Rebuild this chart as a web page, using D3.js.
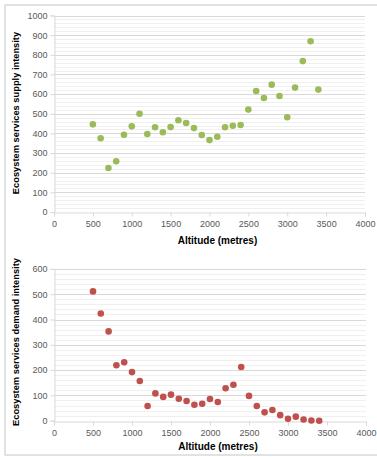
<!DOCTYPE html>
<html><head><meta charset="utf-8">
<script src="https://cdn.jsdelivr.net/npm/d3@7"></script>
<style>
html,body{margin:0;padding:0;background:#fff;}
svg{display:block;font-family:"Liberation Sans",Arial,sans-serif;}
</style></head>
<body>
<svg id="c" width="377" height="457"></svg>
<script>
const altitudes = [500,600,700,800,900,1000,1100,1200,1300,1400,1500,1600,1700,1800,1900,2000,2100,2200,2300,2400,2500,2600,2700,2800,2900,3000,3100,3200,3300,3400];
const supply = [446,375,224,258,393,436,500,397,431,406,432,467,453,427,392,366,383,431,439,443,521,616,580,648,590,482,633,768,869,623];
const demand = [511,424,353,219,231,192,157,58,108,94,103,87,78,63,67,86,74,128,142,212,98,58,33,42,22,8,16,5,1,0];
const xTicks = [0,500,1000,1500,2000,2500,3000,3500,4000];
const supplyTicks = [0,100,200,300,400,500,600,700,800,900,1000];
const demandTicks = [0,100,200,300,400,500,600];
const xTitle = "Altitude (metres)";
const supplyTitle = "Ecosystem services supply intensity";
const demandTitle = "Ecosystem services demand intensity";

const svg = d3.select("#c");
svg.append("rect").attr("x",5).attr("y",5).attr("width",380).attr("height",450)
  .attr("fill","none").attr("stroke","#d9d9d9").attr("stroke-width",1.5);

function panel(o){
  const x = d3.scaleLinear().domain([0,4000]).range([o.x0,o.x1]);
  const y = d3.scaleLinear().domain([0,o.ymax]).range([o.y0,o.y1]);
  const g = svg.append("g");
  const minor = d3.range(0,o.ymax+1,20).filter(v=>v%100!==0);
  g.selectAll(".mn").data(minor).join("line")
    .attr("x1",o.x0).attr("x2",o.x1).attr("y1",d=>Math.round(y(d))+0.5).attr("y2",d=>Math.round(y(d))+0.5)
    .attr("stroke","#f0f0f0").attr("stroke-width",1);
  g.selectAll(".mj").data(o.yticks.filter(v=>v>0)).join("line")
    .attr("x1",o.x0).attr("x2",o.x1).attr("y1",d=>Math.round(y(d))+0.5).attr("y2",d=>Math.round(y(d))+0.5)
    .attr("stroke","#d9d9d9").attr("stroke-width",1);
  const ya = d3.axisLeft(y).tickValues(o.yticks).tickFormat(d3.format("d")).tickSize(4).tickPadding(3);
  const yg = g.append("g").attr("transform",`translate(${o.x0+0.5},0)`).call(ya);
  yg.select(".domain").attr("stroke","#d9d9d9");
  yg.selectAll(".tick line").attr("stroke","#d9d9d9");
  yg.selectAll("text").attr("fill","#595959").style("font-size","9px");
  const xa = d3.axisBottom(x).tickValues(xTicks).tickFormat(d3.format("d")).tickSize(4).tickPadding(4);
  const xg = g.append("g").attr("transform",`translate(0,${Math.round(o.y0)+0.5})`).call(xa);
  xg.select(".domain").attr("stroke","#d9d9d9");
  xg.selectAll(".tick line").attr("stroke","#d9d9d9");
  xg.selectAll("text").attr("fill","#595959").style("font-size","9px");
  g.selectAll(".pt").data(altitudes).join("circle")
    .attr("cx",d=>x(d)).attr("cy",(d,i)=>y(o.values[i])).attr("r",3.3)
    .attr("fill",o.color);
  g.append("text").attr("x",(o.x0+o.x1)/2+8).attr("y",o.xTitleY).attr("text-anchor","middle")
    .style("font-size","10px").style("font-weight","bold").attr("fill","#000").text(xTitle);
  g.append("text").attr("transform",`translate(18.5,${o.yTitleC}) rotate(-90)`).attr("text-anchor","middle")
    .style("font-size","9.3px").style("font-weight","bold").attr("fill","#000").text(o.title);
}

panel({x0:54,x1:365,y0:212,y1:15.5,ymax:1000,yticks:supplyTicks,values:supply,color:"#9bbb59",
  xTitleY:244,yTitleC:113,title:supplyTitle});
panel({x0:54,x1:366,y0:420.7,y1:268.9,ymax:600,yticks:demandTicks,values:demand,color:"#c0504d",
  xTitleY:450,yTitleC:342,title:demandTitle});
</script>
</body></html>
